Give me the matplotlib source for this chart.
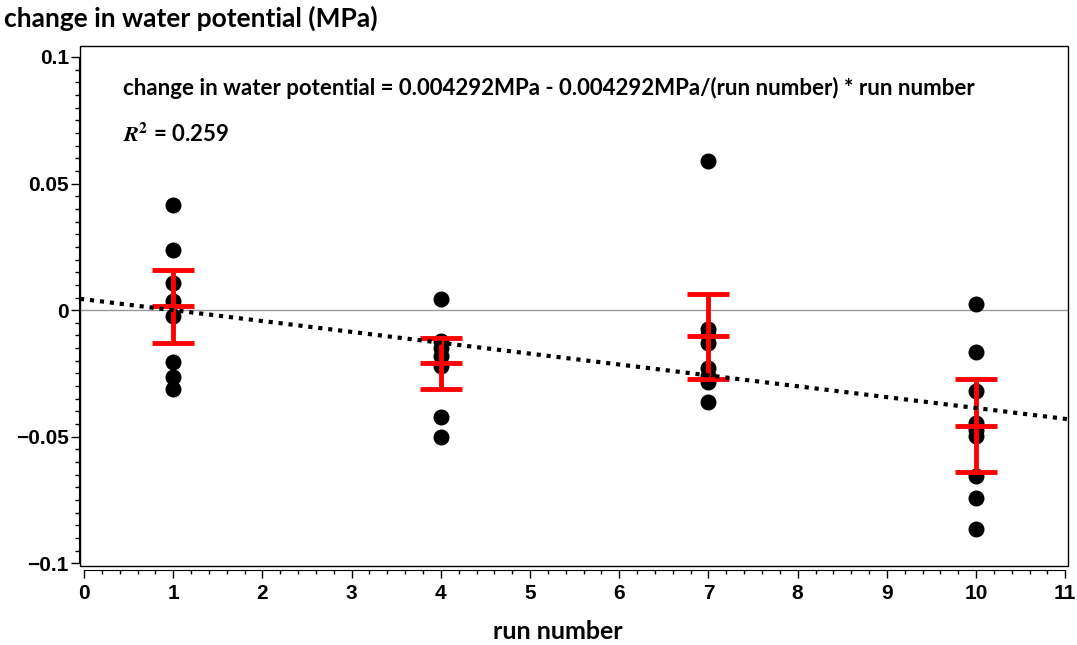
import matplotlib
matplotlib.use("Agg")
import matplotlib.pyplot as plt
from matplotlib.patches import Rectangle
from matplotlib.ticker import MultipleLocator
import numpy as np

run1 = [0.0416, 0.0239, 0.0107, 0.0035, -0.0023, -0.0204, -0.0263, -0.0313]
run4 = [0.0044, -0.0120, -0.0150, -0.0180, -0.0220, -0.0420, -0.0500]
run7 = [0.0590, -0.0075, -0.0100, -0.0130, -0.0230, -0.0260, -0.0285, -0.0362]
run10 = [0.0025, -0.0164, -0.0319, -0.0446, -0.0475, -0.0495, -0.0654, -0.0740, -0.0865]
runs = [1, 4, 7, 10]
groups = [run1, run4, run7, run10]

# group means and error bar ends
means = [0.0015, -0.0210, -0.0102, -0.0458]
err_hi = [0.0158, -0.0110, 0.0063, -0.0270]
err_lo = [-0.0131, -0.0310, -0.0270, -0.0640]

intercept = 0.004292
slope = -0.004292

fig = plt.figure(figsize=(10.77, 6.45), dpi=100)
ax = fig.add_axes([0.0743, 0.1225, 0.9173, 0.8062])
ax.set_xlim(-0.045, 11.03)
ax.set_ylim(-0.101, 0.1043)

ax.axhline(0, color="#999999", lw=1, zorder=1)

for r, g in zip(runs, groups):
    ax.plot([r] * len(g), g, "o", color="black", ms=10.5, zorder=3)

means = np.array(means)
yerr = [means - np.array(err_lo), np.array(err_hi) - means]
ax.errorbar(runs, means, yerr=yerr, fmt="_", color="red", ms=30, mew=3.5,
            elinewidth=3.5, capsize=15, capthick=3.5, zorder=4)

xl = np.array(ax.get_xlim())
ax.plot(xl, intercept + slope * xl, color="black", lw=3, ls=(0, (1, 1.4)), zorder=5)

# frame box, axes drawn offset like the SAS output
ax.add_patch(Rectangle((0, 0), 1, 1, transform=ax.transAxes, fill=False,
                       ec="black", lw=1, clip_on=False, zorder=6))
for s in ["top", "right"]:
    ax.spines[s].set_visible(False)
ax.spines["bottom"].set_position(("outward", 3))
ax.spines["left"].set_position(("outward", 1))
ax.spines["bottom"].set_bounds(0, 11)
ax.spines["left"].set_bounds(-0.1, 0.1)

ax.set_xticks(range(0, 12))
ax.xaxis.set_minor_locator(MultipleLocator(0.2))
ax.set_yticks([-0.1, -0.05, 0, 0.05, 0.1])
ax.set_yticklabels(["\u22120.1", "\u22120.05", "0", "0.05", "0.1"])
ax.yaxis.set_minor_locator(MultipleLocator(0.005))
ax.tick_params(which="major", length=5.5, width=1)
ax.tick_params(which="minor", length=3, width=1)
ax.tick_params(axis="x", which="major", pad=4.5)
ax.tick_params(axis="y", which="major", pad=1.5)
tick_font = ["Liberation Sans Narrow", "Liberation Sans"]
for lab in ax.get_xticklabels() + ax.get_yticklabels():
    lab.set_family(tick_font)
    lab.set_fontweight("bold")
    lab.set_fontsize(15)

ax.set_xlabel("run number", family="Lato", fontweight="bold", fontsize=18, labelpad=12)
ax.xaxis.label.set_x(0.484)
fig.text(0.004, 0.972, "change in water potential (MPa)", family="Lato",
         fontweight="bold", fontsize=19, ha="left", va="center")

ax.text(0.0435, 0.919, "change in water potential = 0.004292MPa - 0.004292MPa/(run number) * run number",
        transform=ax.transAxes, family="Lato", fontweight="bold", fontsize=16, va="center")
ax.text(0.0435, 0.83, r"$\boldsymbol{R}^{\mathbf{2}}$ = 0.259", transform=ax.transAxes,
        family="Lato", fontweight="bold", fontsize=16, va="center", math_fontfamily="stix")

fig.savefig("out.png", dpi=100)
